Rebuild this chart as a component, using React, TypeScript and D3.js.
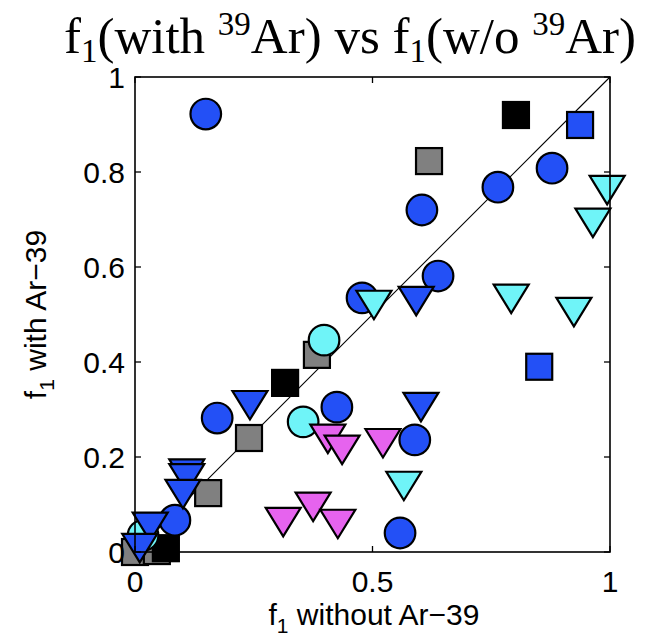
import React from "react";
import * as d3 from "d3";

type P = [number, number];

const blueCircles: P[] = [
  [0.149, 0.922], [0.878, 0.808], [0.764, 0.768], [0.604, 0.72], [0.638, 0.581],
  [0.478, 0.535], [0.173, 0.282], [0.425, 0.305], [0.589, 0.236], [0.558, 0.04], [0.084, 0.067],
];
const cyanCircles: P[] = [[0.398, 0.446], [0.354, 0.274], [0.017, 0.035]];
const graySquares: P[] = [
  [0.619, 0.823], [0.383, 0.415], [0.24, 0.24], [0.154, 0.124], [0.0, 0.0], [0.046, 0.002],
];
const blackSquares: P[] = [[0.802, 0.92], [0.316, 0.356], [0.065, 0.008]];
const blueSquares: P[] = [[0.937, 0.899], [0.851, 0.39]];
const cyanTriangles: P[] = [
  [0.994, 0.762], [0.964, 0.693], [0.792, 0.533], [0.924, 0.505], [0.503, 0.52], [0.566, 0.139],
];
const blueTriangles: P[] = [
  [0.592, 0.528], [0.602, 0.305], [0.242, 0.309], [0.109, 0.165], [0.109, 0.155],
  [0.101, 0.122], [0.032, 0.053], [0.01, 0.008],
];
const magentaTriangles: P[] = [
  [0.406, 0.238], [0.436, 0.215], [0.522, 0.229], [0.312, 0.063], [0.375, 0.095], [0.427, 0.059],
];
const xTicks = [0, 0.5, 1];
const xTickLabels = ["0", "0.5", "1"];
const yTicks = [0, 0.2, 0.4, 0.6, 0.8, 1];
const yTickLabels = ["0", "0.2", "0.4", "0.6", "0.8", "1"];

const BLUE = "#2350F6";
const CYAN = "#6FF4F8";
const MAGENTA = "#E663EE";
const GRAY = "#808080";

export default function App() {
  const W = 662, H = 636;
  const x = d3.scaleLinear().domain([0, 1]).range([135, 610]);
  const y = d3.scaleLinear().domain([0, 1]).range([552, 77]);
  const sw = 2.2;
  const R = 15.3;
  const S = 26;
  const TW = 17.5, TH = 28.5;
  const tri = (p: P) => {
    const cx = x(p[0]), cy = y(p[1]);
    return `M${cx - TW},${cy - TH / 2}L${cx + TW},${cy - TH / 2}L${cx},${cy + TH / 2}Z`;
  };
  const circles = (arr: P[], fill: string, k: string) =>
    arr.map((p, i) => (
      <circle key={k + i} cx={x(p[0])} cy={y(p[1])} r={R} fill={fill} stroke="#000" strokeWidth={sw} />
    ));
  const squares = (arr: P[], fill: string, k: string) =>
    arr.map((p, i) => (
      <rect key={k + i} x={x(p[0]) - S / 2} y={y(p[1]) - S / 2} width={S} height={S} fill={fill} stroke="#000" strokeWidth={sw} />
    ));
  const tris = (arr: P[], fill: string, k: string) =>
    arr.map((p, i) => (
      <path key={k + i} d={tri(p)} fill={fill} stroke="#000" strokeWidth={sw} strokeLinejoin="miter" />
    ));
  const [x0, x1] = x.range();
  const [y0, y1] = y.range();
  const font = "'Liberation Sans', Arial, Helvetica, sans-serif";
  const tl = 6;
  return (
    <svg width={W} height={H} style={{ position: "absolute", left: 0, top: 0, background: "#fff" }}>
      <rect width={W} height={H} fill="#fff" />
      <text x={350} y={53} textAnchor="middle" fontFamily="'Liberation Serif', 'Times New Roman', serif" fontSize={51} fill="#000">
        <tspan>f</tspan>
        <tspan fontSize={33} dy={9}>1</tspan>
        <tspan dy={-9}>(with </tspan>
        <tspan fontSize={33} dy={-18}>39</tspan>
        <tspan dy={18}>Ar) vs f</tspan>
        <tspan fontSize={33} dy={9}>1</tspan>
        <tspan dy={-9}>(w/o </tspan>
        <tspan fontSize={33} dy={-18}>39</tspan>
        <tspan dy={18}>Ar)</tspan>
      </text>
      <line x1={x(0)} y1={y(0)} x2={x(1)} y2={y(1)} stroke="#000" strokeWidth={1.1} />
      {squares(graySquares, GRAY, "gs")}
      {squares(blackSquares, "#000", "bs")}
      {squares(blueSquares, BLUE, "bls")}
      {circles(cyanCircles, CYAN, "cc")}
      {tris(magentaTriangles, MAGENTA, "mt")}
      {circles(blueCircles, BLUE, "bc")}
      {tris(cyanTriangles, CYAN, "ct")}
      {tris(blueTriangles, BLUE, "bt")}
      <rect x={x0} y={y1} width={x1 - x0} height={y0 - y1} fill="none" stroke="#000" strokeWidth={1.6} />
      {xTicks.map((t, i) => (
        <g key={"xt" + i}>
          <line x1={x(t)} x2={x(t)} y1={y0} y2={y0 - tl} stroke="#000" strokeWidth={1.3} />
          <line x1={x(t)} x2={x(t)} y1={y1} y2={y1 + tl} stroke="#000" strokeWidth={1.3} />
          <text x={x(t)} y={592} textAnchor="middle" fontFamily={font} fontSize={30} fill="#000">{xTickLabels[i]}</text>
        </g>
      ))}
      {yTicks.map((t, i) => (
        <g key={"yt" + i}>
          <line x1={x0} x2={x0 + tl} y1={y(t)} y2={y(t)} stroke="#000" strokeWidth={1.3} />
          <line x1={x1} x2={x1 - tl} y1={y(t)} y2={y(t)} stroke="#000" strokeWidth={1.3} />
          <text x={125} y={y(t)} dy="0.35em" textAnchor="end" fontFamily={font} fontSize={30} fill="#000">{yTickLabels[i]}</text>
        </g>
      ))}
      <text x={374} y={625} textAnchor="middle" fontFamily={font} fontSize={30} fill="#000">
        <tspan>f</tspan>
        <tspan fontSize={21} dy={8}>1</tspan>
        <tspan dy={-8}> without Ar−39</tspan>
      </text>
      <text transform={`translate(46,${(y0 + y1) / 2}) rotate(-90)`} textAnchor="middle" fontFamily={font} fontSize={30} fill="#000">
        <tspan>f</tspan>
        <tspan fontSize={21} dy={8}>1</tspan>
        <tspan dy={-8}> with Ar−39</tspan>
      </text>
    </svg>
  );
}
